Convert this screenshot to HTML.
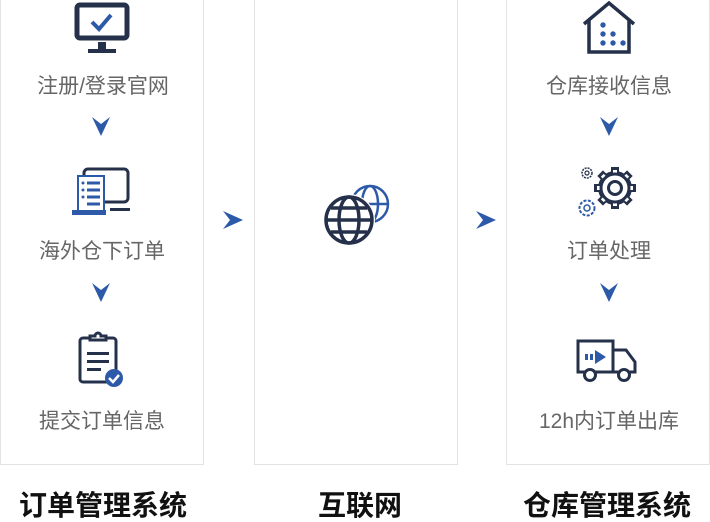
<!DOCTYPE html>
<html><head><meta charset="utf-8"><style>
body{margin:0;width:710px;height:522px;background:#fff;position:relative;overflow:hidden;font-family:"Liberation Sans","Noto Sans CJK SC",sans-serif}
.box{position:absolute;top:-2px;height:467px;border:1px solid #e3e3e3;border-top:none;box-sizing:border-box}
.t{position:absolute;font-size:21px;color:#666;text-align:center;width:204px;line-height:24px}
.h{position:absolute;font-size:28px;font-weight:bold;color:#111;text-align:center;line-height:32px;top:490px}
svg{position:absolute}
</style></head><body>
<div class="box" style="left:0;width:204px"></div>
<div class="box" style="left:254px;width:204px"></div>
<div class="box" style="left:506px;width:204px"></div>

<!-- arrows -->
<svg style="left:0;top:0" width="710" height="522">
<g fill="#2d5aa8">
<path d="M92 117 L101 124 L110 117 L101 136Z"/>
<path d="M92 283 L101 290 L110 283 L101 302Z"/>
<path d="M600 117 L609 124 L618 117 L609 136Z"/>
<path d="M600 283 L609 290 L618 283 L609 302Z"/>
<path d="M223 211 L230 220 L223 229 L243 220Z"/>
<path d="M476 211 L483 220 L476 229 L496 220Z"/>
</g></svg>

<!-- col1 -->
<svg style="left:74px;top:2px" width="56" height="52" viewBox="0 0 56 52">
<rect x="3" y="3" width="50" height="33" rx="3" fill="none" stroke="#25314a" stroke-width="5"/>
<rect x="24" y="40" width="8" height="8" fill="#25314a"/><rect x="14" y="47" width="28" height="4" fill="#25314a"/>
<path d="M18 20 L25 27 L37 13" fill="none" stroke="#2d5aa8" stroke-width="4"/>
</svg>
<div class="t" style="left:1px;top:75px">注册/登录官网</div>
<svg style="left:70px;top:166px" width="64" height="54" viewBox="0 0 64 54">
<rect x="14" y="3" width="44" height="33" rx="4" fill="none" stroke="#25314a" stroke-width="3"/>
<rect x="40" y="42" width="20" height="3" fill="#25314a"/>
<path d="M8 10 h26 v38 h-26z" fill="#fff" stroke="#2d5aa8" stroke-width="2"/>
<rect x="2" y="44" width="34" height="5" fill="#2d5aa8"/>
<g fill="#2d5aa8"><circle cx="13" cy="17" r="1.5"/><circle cx="13" cy="24" r="1.5"/><circle cx="13" cy="31" r="1.5"/><rect x="17" y="15.5" width="13" height="3"/><rect x="17" y="22.5" width="13" height="3"/><rect x="17" y="29.5" width="13" height="3"/><rect x="17" y="36.5" width="13" height="3"/></g>
</svg>
<div class="t" style="left:0;top:240px">海外仓下订单</div>
<svg style="left:76px;top:330px" width="50" height="60" viewBox="0 0 50 60">
<rect x="4" y="8" width="36" height="44" rx="3" fill="none" stroke="#25314a" stroke-width="3"/>
<path d="M14 10 v-4 h5 a3 3 0 0 1 6 0 h5 v4 z" fill="#fff" stroke="#25314a" stroke-width="3"/>
<g fill="#25314a"><rect x="11" y="22" width="22" height="3"/><rect x="11" y="30" width="22" height="3"/><rect x="11" y="38" width="14" height="3"/></g>
<circle cx="38" cy="48" r="9" fill="#2d5aa8"/><path d="M33 48 l4 4 l6 -7" fill="none" stroke="#fff" stroke-width="2.5"/>
</svg>
<div class="t" style="left:0;top:410px">提交订单信息</div>

<!-- col2 -->
<svg style="left:322px;top:182px" width="70" height="66" viewBox="0 0 70 66">
<g fill="none" stroke="#2d5aa8" stroke-width="2.5"><circle cx="48" cy="22" r="18"/><ellipse cx="48" cy="22" rx="8" ry="18"/><line x1="30" y1="22" x2="66" y2="22"/></g>
<circle cx="27" cy="38" r="26" fill="#fff"/>
<g fill="none" stroke="#25314a" stroke-width="3.5"><circle cx="27" cy="38" r="23"/><ellipse cx="27" cy="38" rx="10" ry="23"/><line x1="4" y1="38" x2="50" y2="38"/><path d="M9 26 h36 M9 50 h36"/></g>
</svg>

<!-- col3 -->
<svg style="left:580px;top:0px" width="58" height="56" viewBox="0 0 58 56">
<path d="M4 24 L29 3 L54 24" fill="none" stroke="#25314a" stroke-width="3.5"/>
<path d="M9 20 V52 H49 V20" fill="none" stroke="#25314a" stroke-width="3.5"/>
<g fill="#2d5aa8"><circle cx="23" cy="25" r="2.7"/><circle cx="23" cy="34" r="2.7"/><circle cx="33" cy="34" r="2.7"/><circle cx="23" cy="43" r="2.7"/><circle cx="33" cy="43" r="2.7"/><circle cx="43" cy="43" r="2.7"/></g>
</svg>
<div class="t" style="left:507px;top:75px">仓库接收信息</div>
<svg style="left:576px;top:164px" width="64" height="56" viewBox="0 0 64 56">
<g transform="translate(39 24)" fill="#25314a">
<rect x="-4" y="-21" width="8" height="42"/><rect x="-4" y="-21" width="8" height="42" transform="rotate(45)"/><rect x="-4" y="-21" width="8" height="42" transform="rotate(90)"/><rect x="-4" y="-21" width="8" height="42" transform="rotate(135)"/>
<circle r="17"/><circle r="14" fill="#fff"/><circle r="8" fill="#25314a"/><circle r="4.5" fill="#fff"/>
</g>
<g transform="translate(39 24)" fill="#fff">
<rect x="-2" y="-18" width="4" height="36"/><rect x="-2" y="-18" width="4" height="36" transform="rotate(45)"/><rect x="-2" y="-18" width="4" height="36" transform="rotate(90)"/><rect x="-2" y="-18" width="4" height="36" transform="rotate(135)"/>
<circle r="14"/></g>
<circle cx="39" cy="24" r="14" fill="none" stroke="#25314a" stroke-width="3"/>
<circle cx="39" cy="24" r="6.5" fill="none" stroke="#25314a" stroke-width="3"/>
<circle cx="11" cy="9" r="5" fill="none" stroke="#25314a" stroke-width="1.5" stroke-dasharray="2 1"/><circle cx="11" cy="9" r="2" fill="none" stroke="#25314a" stroke-width="1.2"/>
<circle cx="11" cy="44" r="7.5" fill="none" stroke="#2d5aa8" stroke-width="2" stroke-dasharray="3 1.5"/><circle cx="11" cy="44" r="3" fill="none" stroke="#2d5aa8" stroke-width="1.5"/>
</svg>
<div class="t" style="left:507px;top:240px">订单处理</div>
<svg style="left:575px;top:338px" width="64" height="46" viewBox="0 0 64 46">
<path d="M3 3 H38 V34 H3 Z" fill="none" stroke="#25314a" stroke-width="3"/>
<path d="M38 12 H51 L60 24 V34 H38" fill="none" stroke="#25314a" stroke-width="3"/>
<circle cx="15" cy="37" r="5.5" fill="#fff" stroke="#25314a" stroke-width="3"/><circle cx="49" cy="37" r="5.5" fill="#fff" stroke="#25314a" stroke-width="3"/>
<g fill="#2d5aa8"><rect x="10" y="16" width="3" height="6"/><rect x="15" y="16" width="3" height="6"/><path d="M20 12 L31 19 L20 26Z"/></g>
</svg>
<div class="t" style="left:507px;top:410px">12h内订单出库</div>

<div class="h" style="left:0;width:206px">订单管理系统</div>
<div class="h" style="left:258px;width:204px">互联网</div>
<div class="h" style="left:505px;width:204px">仓库管理系统</div>
</body></html>
